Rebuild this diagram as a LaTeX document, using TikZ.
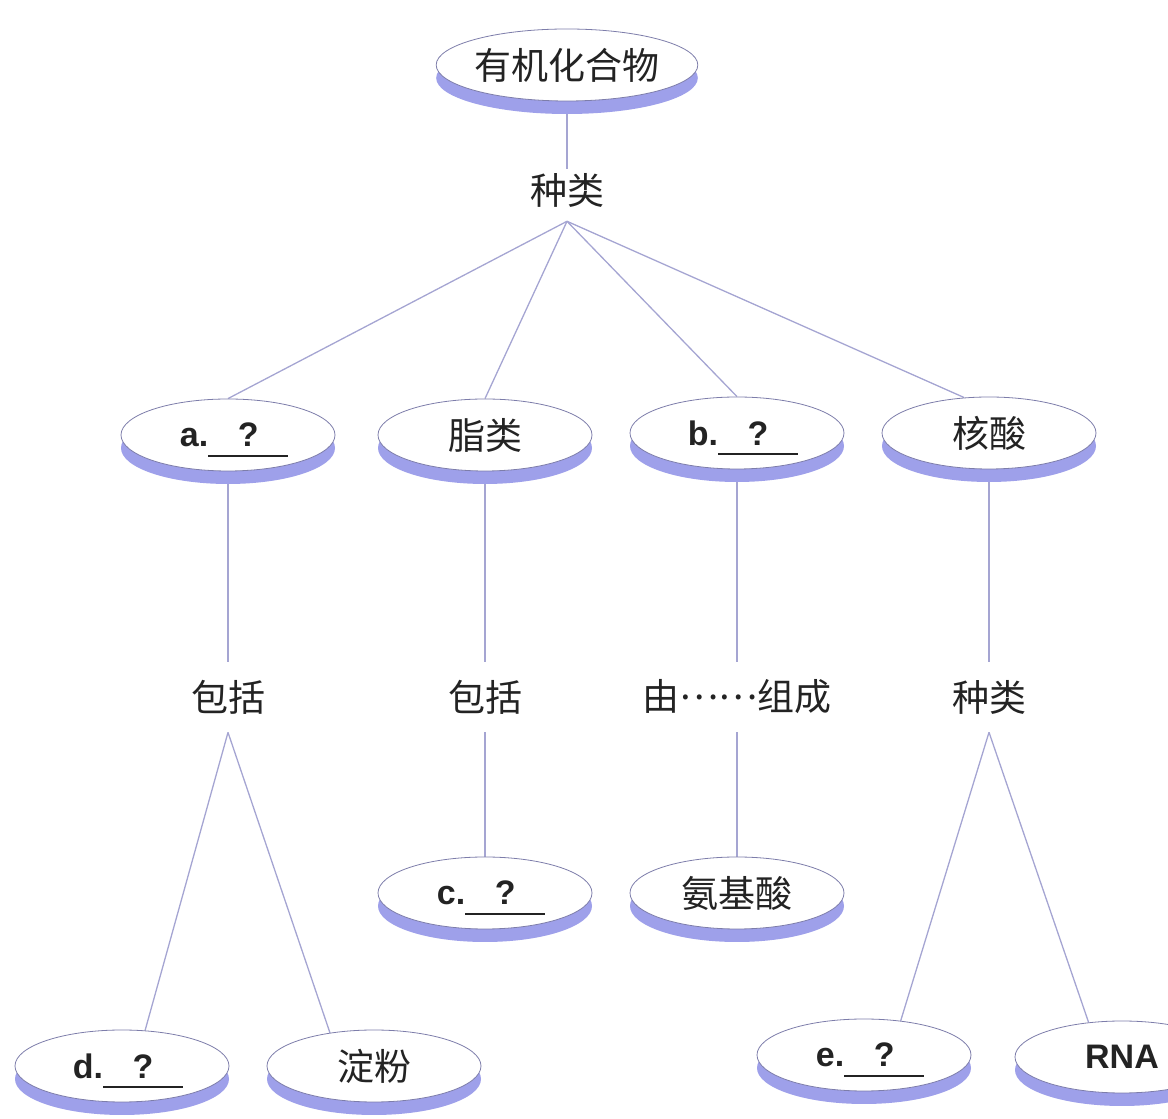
\documentclass[tikz,border=0pt]{standalone}
\usepackage{fontspec}
\setsansfont{Liberation Sans}
\newfontfamily\cjk{Noto Sans CJK SC}
\usepackage{tikz}
\usetikzlibrary{shapes.geometric,shadows,positioning}
\pgfdeclarelayer{background}
\pgfsetlayers{background,main}
\definecolor{rim}{RGB}{158,160,234}
\definecolor{edgeline}{RGB}{165,165,210}
\definecolor{rimline}{RGB}{125,125,170}
\definecolor{ink}{RGB}{35,35,35}
\newcommand{\qblank}{\makebox[2.35em]{?}\hspace{-2.35em}\smash{\rule[-0.3em]{2.35em}{0.055em}}}

\begin{document}
\begin{tikzpicture}[x=1pt,y=1pt,semithick,node distance=250pt]
	\tikzstyle{bubble}=[ellipse, draw=rimline, line width=0.8pt, fill=white,
	                    minimum width=214pt, minimum height=72pt, inner sep=0pt,
	                    text=ink, font=\cjk\fontsize{37}{40}\selectfont,
	                    drop shadow={shadow xshift=0pt, shadow yshift=-13pt, fill=rim, opacity=1}]
	\tikzstyle{relation}=[inner sep=18pt, text=ink, font=\cjk\fontsize{37}{40}\selectfont]
	\tikzstyle{quiz}=[font=\sffamily\bfseries\fontsize{34}{40}\selectfont]
	\tikzstyle{link}=[draw=edgeline, line width=1.3pt]

	\useasboundingbox (0,0) rectangle (1168,1119);

	\node[bubble]      (root)  at (567,1054)  {有机化合物};
	\node[relation, inner sep=4pt] (kind1) [below of=root, node distance=125pt] {种类};

	\node[bubble, quiz] (a)     at (228,684)  {\hspace*{12pt}a.\qblank};
	\node[bubble]       (lipid) at (485,684)  {脂类};
	\node[bubble, quiz] (b)     at (737,686)  {\hspace*{12pt}b.\qblank};
	\node[bubble]       (nucl)  at (989,686)  {核酸};

	\node[relation] (incl1) [below of=a, node distance=262pt]     {包括};
	\node[relation] (incl2) [below of=lipid, node distance=262pt] {包括};
	\node[relation] (made)  [below of=b, node distance=264pt]     {由\raisebox{0.32em}{……}组成};
	\node[relation] (kind2) [below of=nucl, node distance=264pt]  {种类};

	\node[bubble, quiz] (c)     [below of=incl2, node distance=196pt] {\hspace*{12pt}c.\qblank};
	\node[bubble]       (amino) [below of=made, node distance=196pt]  {氨基酸};

	\node[bubble, quiz] (d)      at (122,53)  {\hspace*{12pt}d.\qblank};
	\node[bubble]       (starch) at (374,53)  {淀粉};
	\node[bubble, quiz] (e)      at (864,64)  {\hspace*{12pt}e.\qblank};
	\node[bubble, quiz] (rna)    at (1122,62) {RNA};

	\begin{pgfonlayer}{background}
	\path[every edge/.append style={link}]
	      (root) edge (kind1)
	      ([yshift=-10pt]kind1.south) edge (a.north)
	                                  edge (lipid.north)
	                                  edge (b.north)
	                                  edge (nucl.125)
	      (a) edge (incl1)
	      (lipid) edge (incl2)
	      (b) edge (made)
	      (nucl) edge (kind2)
	      (incl1.south) edge (d.57)
	                    edge (starch.143)
	      (incl2) edge (c)
	      (made) edge (amino)
	      (kind2.south) edge (e.43)
	                    edge (rna.134)
	;
	\end{pgfonlayer}
\end{tikzpicture}
\end{document}
